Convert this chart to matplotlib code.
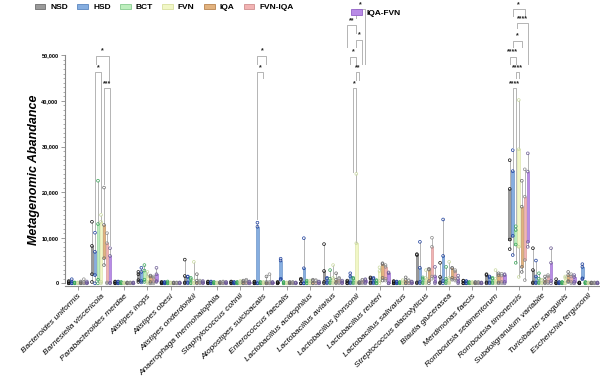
import numpy as np
import matplotlib
matplotlib.use("Agg")
import matplotlib.pyplot as plt
from matplotlib.patches import Patch
from matplotlib.ticker import FixedLocator, FuncFormatter

plt.rcParams['font.family'] = ['Liberation Sans', 'DejaVu Sans']

species = ['Bacteroides uniformis', 'Barnesiella viscericola', 'Parabacteroides merdae',
           'Alistipes inops', 'Alistipes obesi', 'Alistipes onderdonkii',
           'Anaerophaga thermohalophila', 'Staphylococcus cohnii', 'Atopostipes suicloacalis',
           'Enterococcus faecalis', 'Lactobacillus acidophilus', 'Lactobacillus aviarius',
           'Lactobacillus johnsonii', 'Lactobacillus reuteri', 'Lactobacillus salivarius',
           'Streptococcus alactolyticus', 'Blautia glucerasea', 'Merdimonas faecis',
           'Romboutsia sedimentorum', 'Romboutsia timonensis', 'Subdoligranulum variabile',
           'Turicibacter sanguinis', 'Escherichia fergusonii']

groups = ['NSD', 'HSD', 'BCT', 'FVN', 'IQA', 'FVN-IQA', 'IQA-FVN']

# box bottom / box top / whisker top / whisker bottom for each group
nsd_q1 = [0, 2000, 0, 700, 0, 200, 0, 0, 0, 0, 0, 300, 0, 200, 0, 200, 200, 0, 200, 9600, 200, 0, 0]
nsd_q3 = [300, 8200, 300, 2000, 200, 1600, 300, 300, 300, 200, 800, 2700, 400, 1100, 300, 6200, 1400, 500, 1800, 20700, 2900, 300, 100]
nsd_max = [500, 13500, 400, 2500, 300, 5200, 400, 400, 400, 300, 1000, 8600, 600, 1300, 500, 6400, 4500, 600, 2000, 27000, 7700, 900, 200]
nsd_min = [0, 300, 0, 300, 0, 0, 0, 0, 0, 0, 0, 0, 0, 0, 0, 0, 0, 0, 0, 7500, 0, 0, 0]

hsd_q1 = [0, 1800, 0, 500, 0, 200, 0, 0, 0, 1000, 0, 200, 200, 200, 0, 300, 500, 0, 200, 10400, 200, 0, 1100]
hsd_q3 = [400, 6900, 300, 2500, 200, 1400, 300, 200, 12400, 5000, 3300, 1000, 1500, 1000, 300, 3400, 6000, 400, 1300, 24600, 1500, 200, 3600]
hsd_max = [900, 11100, 400, 3400, 300, 1500, 400, 300, 13300, 5400, 9900, 1200, 2200, 1200, 400, 9100, 14000, 500, 1500, 29200, 5000, 300, 4200]
hsd_min = [0, 0, 0, 200, 0, 0, 0, 0, 0, 800, 0, 0, 0, 0, 0, 0, 0, 0, 0, 6200, 0, 0, 900]

bct_q1 = [0, 800, 0, 800, 0, 100, 0, 0, 0, 0, 0, 200, 200, 0, 0, 200, 300, 0, 200, 8500, 200, 0, 0]
bct_q3 = [100, 13000, 200, 2800, 200, 900, 200, 200, 200, 200, 400, 1000, 1000, 500, 200, 1000, 1000, 200, 1000, 11700, 1000, 200, 200]
bct_max = [200, 22500, 300, 4000, 400, 1200, 300, 300, 300, 300, 600, 2900, 1200, 700, 300, 1300, 3600, 300, 1200, 12500, 2200, 300, 300]
bct_min = [0, 0, 0, 300, 0, 0, 0, 0, 0, 0, 0, 0, 0, 0, 0, 0, 0, 0, 0, 4500, 0, 0, 0]

fvn_q1 = [0, 300, 0, 300, 0, 100, 0, 0, 0, 0, 0, 200, 200, 500, 0, 200, 200, 0, 200, 8000, 100, 0, 0]
fvn_q3 = [100, 13500, 100, 1500, 100, 600, 100, 300, 200, 100, 400, 1200, 8800, 2700, 400, 1200, 1200, 200, 1000, 29400, 600, 1200, 100]
fvn_max = [200, 15000, 200, 2500, 200, 4700, 200, 500, 300, 200, 600, 4000, 24000, 3500, 700, 2900, 4700, 300, 2900, 40200, 800, 1500, 200]
fvn_min = [0, 0, 0, 0, 0, 0, 0, 0, 0, 0, 0, 0, 0, 0, 0, 0, 0, 0, 0, 1400, 0, 0, 0]

iqa_q1 = [0, 5500, 0, 300, 0, 100, 0, 0, 0, 0, 0, 200, 0, 1200, 0, 500, 1200, 0, 200, 3600, 200, 500, 0]
iqa_q3 = [200, 12800, 100, 1500, 100, 600, 200, 400, 300, 200, 600, 800, 200, 4200, 700, 3000, 3300, 200, 1800, 16800, 800, 1800, 100]
iqa_max = [400, 21000, 200, 1700, 200, 2000, 300, 600, 1500, 300, 800, 2200, 300, 4400, 1300, 3200, 3400, 300, 2200, 22500, 1500, 2500, 200]
iqa_min = [0, 4000, 0, 0, 0, 0, 0, 0, 0, 0, 0, 0, 0, 600, 0, 0, 800, 0, 0, 2500, 0, 300, 0]

fi_q1 = [0, 200, 0, 300, 0, 100, 0, 0, 0, 0, 0, 200, 200, 1000, 0, 1500, 1000, 0, 300, 5100, 300, 300, 0]
fi_q3 = [300, 8800, 100, 1200, 100, 300, 300, 600, 300, 200, 500, 1000, 700, 3600, 500, 8000, 2600, 200, 1700, 19000, 1500, 1500, 100]
fi_max = [900, 11000, 200, 1500, 200, 600, 400, 800, 2000, 300, 700, 1200, 800, 4000, 700, 10000, 2900, 300, 2100, 25000, 1800, 2000, 200]
fi_min = [0, 0, 0, 0, 0, 0, 0, 0, 0, 0, 0, 0, 0, 600, 0, 1000, 600, 0, 0, 700, 0, 0, 0]

if_q1 = [0, 100, 0, 500, 0, 100, 0, 0, 0, 0, 0, 100, 200, 0, 0, 300, 300, 0, 300, 9100, 500, 300, 0]
if_q3 = [200, 6000, 100, 2000, 100, 300, 200, 300, 200, 100, 300, 400, 700, 2200, 300, 1500, 1000, 100, 1800, 24500, 4500, 1400, 100]
if_max = [400, 7700, 200, 3400, 200, 500, 300, 400, 300, 200, 400, 600, 900, 2400, 400, 3600, 1700, 200, 2000, 28500, 7700, 1800, 200]
if_min = [0, 0, 0, 300, 0, 0, 0, 0, 0, 0, 0, 0, 0, 0, 0, 0, 0, 0, 0, 8000, 0, 0, 0]

fills = ['#9a9a9a', '#86aee0', '#bdeebd', '#f1f7c6', '#e2b27e', '#f2b3b3', '#b98be6']
edges = ['#6e6e6e', '#5a86c0', '#88cc90', '#d8e0a0', '#b88450', '#cf8e8e', '#9363c8']
dots = ['#111111', '#1c3e9c', '#3aa55a', '#c9d9a0', '#6a6a6a', '#8c8c8c', '#6e5e96']

# significance brackets: species, slot a, slot b, height, leg a bottom, leg b bottom, label
brackets = [
    (1, 1, 3, 46300, 11800, 15700, '*'),
    (1, 4, 6, 42800, 21700, 8400, '***'),
    (1, 1.4, 5.8, 49900, 48200, 44200, '*'),
    (8, 1, 3, 46300, 14000, 45000, '*'),
    (8, 1, 4, 49900, 48200, 48200, '*'),
    (12, 2, 3, 42800, 24500, 24500, '*'),
    (12, 3, 4, 46300, 44600, 44600, '**'),
    (12, 1, 3, 49700, 48200, 48200, '*'),
    (12, 3, 5, 53400, 51800, 48200, '*'),
    (12, 0, 3, 56600, 51900, 54800, '**'),
    (12, 3, 6, 60100, 58100, 48200, '*'),
    (19, 1, 2, 42800, 29900, 13000, '****'),
    (19, 2, 3, 46300, 45000, 45000, '****'),
    (19, 0, 2, 49700, 48200, 48200, '****'),
    (19, 1, 4, 53200, 51900, 51900, '*'),
    (19, 2.3, 6, 57000, 55900, 48200, '****'),
    (19, 1, 5, 60100, 58600, 58600, '*'),
]

q1s = [nsd_q1, hsd_q1, bct_q1, fvn_q1, iqa_q1, fi_q1, if_q1]
q3s = [nsd_q3, hsd_q3, bct_q3, fvn_q3, iqa_q3, fi_q3, if_q3]
maxs = [nsd_max, hsd_max, bct_max, fvn_max, iqa_max, fi_max, if_max]
mins = [nsd_min, hsd_min, bct_min, fvn_min, iqa_min, fi_min, if_min]

step = 0.13
width = 0.11
x = np.arange(len(species))

fig = plt.figure(figsize=(6, 3.83), dpi=100)
ax = fig.add_axes([0.108, 0.2543, 0.892, 0.7457])

for j in range(len(groups)):
    xs = x + (j - 3) * step
    q1 = np.array(q1s[j])
    q3 = np.array(q3s[j])
    ax.vlines(xs, q3, maxs[j], color='#a8a8a8', lw=0.6, zorder=1)
    ax.vlines(xs, mins[j], q1, color='#a8a8a8', lw=0.6, zorder=1)
    ax.bar(xs, q3 - q1, bottom=q1, width=width, color=fills[j], edgecolor=edges[j],
           linewidth=0.4, zorder=2)
    for vals in (mins[j], q1, q3, maxs[j]):
        ax.scatter(xs, vals, s=4, facecolors='none', edgecolors=dots[j], linewidths=0.5, zorder=3)

for sp, a, b, h, la, lb, lab in brackets:
    xa = sp + (a - 3) * step
    xb = sp + (b - 3) * step
    ax.plot([xa, xa, xb, xb], [la, h, h, lb], color='#b4b4b4', lw=0.7, zorder=1)
    ax.text((xa + xb) / 2, h + 300, lab, ha='center', va='bottom', fontsize=5,
            fontweight='bold', color='#222222')

ax.set_xlim(-0.56, 22.5)
ax.set_ylim(-500, 62130)
ax.spines['top'].set_visible(False)
ax.spines['right'].set_visible(False)
ax.spines['left'].set_bounds(0, 50000)
for s in ('left', 'bottom'):
    ax.spines[s].set_color('#8a8a8a')
    ax.spines[s].set_linewidth(0.8)

ax.set_yticks(np.arange(0, 50001, 10000))
ax.yaxis.set_minor_locator(FixedLocator(np.arange(0, 50001, 1000)))
ax.yaxis.set_major_formatter(FuncFormatter(lambda v, p: '{:,.0f}'.format(v)))
ax.tick_params(axis='y', which='major', length=3, width=0.6, color='#8a8a8a',
               labelsize=4, pad=1.5)
ax.tick_params(axis='y', which='minor', length=1.6, width=0.5, color='#8a8a8a')
for t in ax.get_yticklabels():
    t.set_fontweight('bold')

ax.set_xticks(x)
ax.set_xticklabels(species, rotation=45, ha='right', rotation_mode='anchor',
                   fontstyle='italic', fontsize=6)
ax.tick_params(axis='x', length=3, width=0.6, color='#8a8a8a', pad=2)

ax.set_ylabel('Metagenomic Abandance', fontsize=9, fontweight='bold', fontstyle='italic')
ax.yaxis.set_label_coords(-0.047, 0.407)

handles = [Patch(facecolor=fills[j], edgecolor=edges[j], linewidth=0.6) for j in range(len(groups))]
leg1 = fig.legend(handles[:6], groups[:6], loc='upper left', bbox_to_anchor=(0.045, 1.01),
                  ncol=6, frameon=False, handlelength=1.3, handleheight=0.6,
                  handletextpad=0.6, columnspacing=1.1, prop={'size': 6, 'weight': 'bold'})
leg2 = fig.legend(handles[6:], groups[6:], loc='upper left', bbox_to_anchor=(0.572, 0.995),
                  frameon=False, handlelength=1.3, handleheight=0.6,
                  handletextpad=0.6, prop={'size': 6, 'weight': 'bold'})

fig.savefig('out.png', dpi=100)
